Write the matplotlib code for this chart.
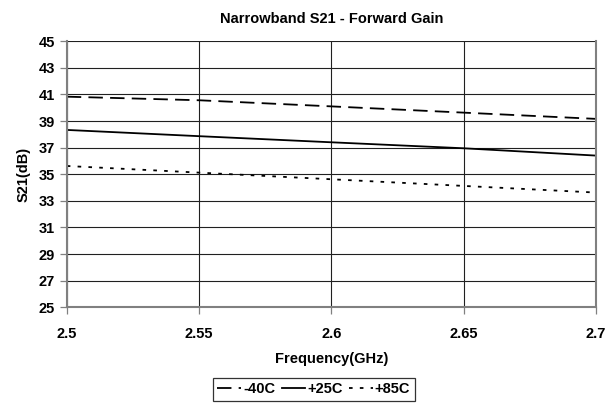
import matplotlib
matplotlib.use("Agg")
import matplotlib.pyplot as plt

plt.rcParams['font.family'] = ['Liberation Sans', 'DejaVu Sans']
plt.rcParams['font.weight'] = 'bold'

freq = [2.5, 2.55, 2.6, 2.65, 2.7]
s21_m40 = [40.83, 40.56, 40.1, 39.63, 39.16]
s21_p25 = [38.33, 37.86, 37.4, 36.95, 36.4]
s21_p85 = [35.62, 35.12, 34.62, 34.12, 33.62]
labels = ['-40C', '+25C', '+85C']

xticks = [2.5, 2.55, 2.6, 2.65, 2.7]
xtick_labels = ['2.5', '2.55', '2.6', '2.65', '2.7']
yticks = list(range(25, 46, 2))

fig = plt.figure(figsize=(6.07, 4.08), dpi=100)
ax = fig.add_axes([0.110, 0.247, 0.872, 0.652])

ax.plot(freq, s21_m40, color='black', lw=1.3, linestyle=(0, (8, 4)), label=labels[0])
ax.plot(freq, s21_p25, color='black', lw=1.3, linestyle='-', label=labels[1])
ax.plot(freq, s21_p85, color='black', lw=1.3, linestyle=(0, (2, 4)), label=labels[2])

ax.set_xlim(2.5, 2.7)
ax.set_ylim(25, 45)
ax.set_xticks(xticks)
ax.set_xticklabels(xtick_labels, fontweight='bold')
ax.set_yticks(yticks)
ax.set_yticklabels([str(v) for v in yticks], fontweight='bold')
ax.grid(True, color='#202020', lw=0.8)
ax.set_axisbelow(True)
for side in ['left', 'bottom', 'right']:
    ax.spines[side].set_color('#808080')
    ax.spines[side].set_linewidth(1.5)
ax.spines['top'].set_visible(False)
ax.tick_params(axis='both', labelsize=10.5, length=5, width=0.9, color='#808080')
ax.tick_params(axis='x', pad=9)

ax.set_title('Narrowband S21 - Forward Gain', fontsize=10.5, fontweight='bold', pad=13)
ax.set_xlabel('Frequency(GHz)', fontsize=10.5, fontweight='bold', labelpad=8)
ax.set_ylabel('S21(dB)', fontsize=10.5, fontweight='bold', labelpad=6)

leg = fig.legend(loc='center', bbox_to_anchor=(0.517, 0.046), ncol=3, frameon=True,
                 fancybox=False, edgecolor='black', handlelength=1.6,
                 handletextpad=0.15, columnspacing=0.45, borderpad=0.3,
                 prop={'weight': 'bold', 'size': 10.5})
leg.get_frame().set_linewidth(0.9)

fig.savefig('out.png', dpi=100)
